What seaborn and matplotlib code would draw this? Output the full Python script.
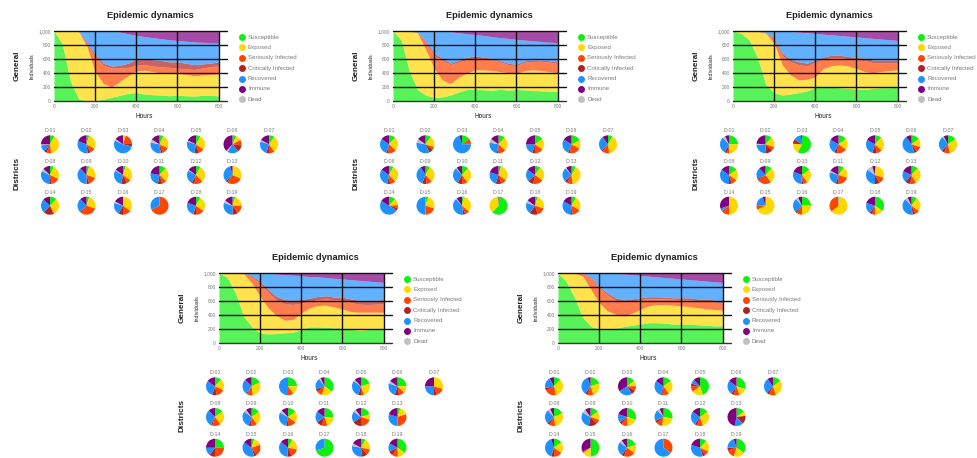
import matplotlib
matplotlib.use("Agg")
import matplotlib.pyplot as plt
import seaborn as sns

W, H = 977, 458

HOURS = [0, 40, 80, 120, 160, 200, 240, 280, 320, 360, 400,
         440, 480, 520, 560, 600, 640, 680, 720, 760, 800]
STATES = ["Susceptible", "Exposed", "Seriously Infected", "Critically Infected",
          "Recovered", "Immune", "Dead"]
COLORS = ["#11ee11", "#ffd700", "#ff4500", "#b22222", "#1e90ff", "#800080", "#c0c0c0"]
DISTRICTS = ["D-%02d" % i for i in range(1, 20)]
Y_TICKS = [0, 200, 400, 600, 800, 1000]
Y_TICK_LABELS = ["0", "200", "400", "600", "800", "1,000"]
X_TICKS = [0, 200, 400, 600, 800]
DEAD = [0] * 21

# run 1
SUSC_1 = [1000, 820, 280, 30, 5, 10, 25, 55, 80, 110, 120, 100, 90, 85, 75, 85, 75, 70, 80, 85, 70]
EXPO_1 = [0, 180, 720, 960, 775, 410, 225, 145, 200, 250, 310, 340, 330, 315, 315, 315, 305, 290, 290, 295, 320]
SERI_1 = [0, 0, 0, 5, 40, 210, 260, 270, 190, 120, 80, 80, 80, 90, 90, 70, 80, 90, 100, 110, 110]
CRIT_1 = [0, 0, 0, 5, 20, 30, 30, 30, 40, 60, 90, 90, 90, 90, 80, 90, 80, 70, 60, 50, 60]
RECO_1 = [0, 0, 0, 0, 160, 340, 460, 500, 475, 420, 340, 310, 315, 310, 315, 305, 315, 325, 308, 290, 265]
IMMU_1 = [0, 0, 0, 0, 0, 0, 0, 0, 15, 40, 60, 80, 95, 110, 125, 135, 145, 155, 162, 170, 175]

# run 2
SUSC_2 = [1000, 870, 420, 160, 85, 50, 60, 85, 130, 165, 165, 160, 155, 165, 155, 165, 160, 150, 145, 140, 135]
EXPO_2 = [0, 130, 580, 810, 645, 415, 240, 165, 210, 235, 280, 285, 280, 255, 250, 230, 275, 295, 290, 280, 270]
SERI_2 = [0, 0, 0, 10, 100, 185, 280, 270, 220, 190, 165, 155, 155, 140, 115, 110, 120, 120, 135, 135, 135]
CRIT_2 = [0, 0, 0, 5, 20, 30, 30, 20, 25, 35, 35, 25, 20, 15, 20, 20, 20, 20, 15, 20, 20]
RECO_2 = [0, 0, 0, 15, 150, 320, 390, 450, 390, 335, 305, 310, 310, 330, 355, 355, 295, 275, 265, 265, 275]
IMMU_2 = [0, 0, 0, 0, 0, 0, 0, 10, 25, 40, 50, 65, 80, 95, 105, 120, 130, 140, 150, 160, 165]

# run 3
SUSC_3 = [1000, 965, 870, 610, 230, 120, 85, 100, 120, 145, 195, 215, 195, 190, 180, 170, 165, 180, 190, 190, 195]
EXPO_3 = [0, 35, 130, 385, 735, 705, 430, 270, 180, 165, 150, 250, 310, 325, 320, 295, 255, 225, 230, 245, 250]
SERI_3 = [0, 0, 0, 5, 10, 45, 135, 190, 220, 190, 210, 135, 115, 105, 100, 125, 155, 145, 125, 110, 100]
CRIT_3 = [0, 0, 0, 0, 5, 25, 30, 35, 40, 40, 30, 30, 35, 35, 35, 35, 35, 35, 40, 40, 40]
RECO_3 = [0, 0, 0, 0, 20, 105, 320, 400, 425, 435, 380, 325, 290, 280, 290, 290, 295, 310, 300, 290, 280]
IMMU_3 = [0, 0, 0, 0, 0, 0, 0, 5, 15, 25, 35, 45, 55, 65, 75, 85, 95, 105, 115, 125, 135]

# run 4
SUSC_4 = [1000, 940, 715, 380, 230, 140, 130, 135, 145, 155, 190, 230, 230, 225, 215, 215, 200, 180, 190, 200, 205]
EXPO_4 = [0, 60, 285, 610, 625, 525, 370, 255, 180, 180, 240, 270, 305, 315, 300, 270, 250, 260, 250, 240, 235]
SERI_4 = [0, 0, 0, 5, 90, 185, 220, 220, 235, 215, 140, 95, 85, 90, 100, 125, 130, 115, 110, 115, 120]
CRIT_4 = [0, 0, 0, 5, 15, 30, 40, 55, 60, 60, 50, 45, 45, 45, 40, 45, 50, 55, 60, 55, 60]
RECO_4 = [0, 0, 0, 0, 40, 120, 235, 320, 355, 360, 340, 310, 280, 260, 270, 260, 275, 285, 275, 265, 245]
IMMU_4 = [0, 0, 0, 0, 0, 0, 5, 15, 25, 30, 40, 50, 55, 65, 75, 85, 95, 105, 115, 125, 135]

# run 5
SUSC_5 = [1000, 880, 650, 365, 235, 200, 200, 210, 235, 255, 270, 290, 290, 285, 270, 270, 270, 260, 255, 245, 245]
EXPO_5 = [0, 120, 350, 590, 530, 375, 260, 200, 150, 170, 210, 240, 260, 265, 270, 260, 250, 245, 235, 235, 225]
SERI_5 = [0, 0, 0, 35, 165, 215, 230, 200, 200, 175, 140, 100, 85, 80, 85, 90, 95, 100, 105, 105, 100]
CRIT_5 = [0, 0, 0, 5, 15, 20, 25, 35, 30, 30, 25, 30, 25, 25, 20, 25, 30, 25, 30, 30, 30]
RECO_5 = [0, 0, 0, 5, 55, 190, 285, 350, 370, 345, 320, 295, 285, 280, 280, 270, 260, 265, 260, 260, 265]
IMMU_5 = [0, 0, 0, 0, 0, 0, 0, 5, 15, 25, 35, 45, 55, 65, 75, 85, 95, 105, 115, 125, 135]

# district shares, pie order: Susceptible, Exposed, Seriously, Critically, Recovered, Dead, Immune
PIE_ORDER = [0, 1, 2, 3, 4, 6, 5]
PIES_1 = [
    [8, 40, 8, 5, 12, 2, 25], [5, 28, 10, 5, 33, 0, 19], [0, 5, 18, 6, 53, 3, 15],
    [7, 25, 12, 4, 30, 6, 16], [8, 27, 10, 8, 27, 2, 18], [7, 10, 10, 12, 20, 3, 38],
    [10, 30, 10, 5, 25, 3, 17], [7, 25, 15, 3, 32, 5, 13], [5, 25, 15, 5, 38, 0, 12],
    [5, 30, 8, 10, 30, 2, 15], [12, 25, 8, 8, 25, 0, 22], [8, 30, 15, 5, 25, 2, 15],
    [0, 32, 28, 3, 33, 0, 4], [12, 30, 2, 18, 25, 0, 13], [5, 25, 30, 3, 25, 0, 12],
    [0, 35, 15, 8, 22, 3, 17], [0, 0, 68, 0, 32, 0, 0], [8, 27, 15, 5, 25, 0, 20],
    [5, 20, 15, 10, 30, 5, 15],
]
PIES_2 = [
    [12, 25, 15, 3, 30, 0, 15], [10, 20, 5, 8, 35, 7, 15], [15, 0, 8, 2, 70, 0, 5],
    [12, 25, 13, 3, 25, 7, 15], [15, 20, 15, 5, 20, 0, 25], [18, 15, 20, 3, 28, 0, 16],
    [8, 40, 12, 3, 27, 0, 10], [8, 30, 10, 5, 32, 0, 15], [8, 30, 10, 8, 35, 0, 9],
    [12, 28, 10, 8, 30, 2, 10], [5, 30, 10, 10, 25, 0, 20], [10, 25, 18, 10, 22, 0, 15],
    [8, 40, 10, 5, 25, 2, 10], [12, 12, 5, 5, 50, 0, 16], [5, 25, 20, 0, 50, 0, 0],
    [3, 33, 8, 4, 40, 2, 10], [62, 37, 0, 0, 0, 0, 1], [5, 25, 15, 15, 20, 5, 15],
    [8, 25, 15, 3, 32, 0, 17],
]
PIES_3 = [
    [25, 25, 3, 5, 30, 5, 7], [12, 18, 7, 12, 25, 2, 24], [58, 18, 0, 8, 14, 0, 2],
    [15, 20, 18, 5, 25, 0, 17], [12, 25, 10, 8, 28, 0, 17], [15, 15, 10, 5, 45, 0, 10],
    [15, 32, 10, 5, 28, 2, 8], [15, 20, 10, 5, 35, 0, 15], [12, 28, 25, 3, 20, 0, 12],
    [15, 25, 8, 3, 30, 0, 19], [10, 20, 20, 5, 25, 3, 17], [2, 28, 12, 8, 35, 10, 5],
    [12, 30, 10, 10, 20, 0, 18], [0, 50, 15, 0, 5, 0, 30], [0, 68, 8, 0, 19, 0, 5],
    [25, 25, 10, 3, 25, 5, 7], [0, 64, 35, 0, 1, 0, 0], [35, 15, 5, 5, 20, 0, 20],
    [10, 25, 8, 5, 40, 5, 7],
]
PIES_4 = [
    [12, 20, 15, 8, 30, 0, 15], [18, 30, 10, 2, 28, 0, 12], [25, 15, 10, 0, 50, 0, 0],
    [35, 20, 10, 5, 20, 3, 7], [20, 25, 5, 5, 30, 3, 12], [25, 12, 10, 8, 25, 5, 15],
    [0, 30, 15, 5, 25, 0, 25], [15, 25, 15, 3, 30, 0, 12], [15, 25, 10, 5, 30, 5, 10],
    [15, 20, 15, 3, 30, 5, 12], [25, 20, 10, 10, 20, 0, 15], [20, 10, 20, 15, 20, 5, 10],
    [5, 15, 30, 0, 30, 0, 20], [25, 0, 25, 10, 15, 0, 25], [5, 15, 20, 5, 40, 0, 15],
    [8, 20, 15, 8, 35, 0, 14], [70, 0, 0, 0, 30, 0, 0], [8, 20, 10, 10, 30, 5, 17],
    [35, 15, 10, 8, 15, 0, 17],
]
PIES_5 = [
    [12, 35, 20, 5, 20, 0, 8], [20, 25, 10, 5, 35, 0, 5], [15, 10, 8, 8, 25, 0, 34],
    [15, 25, 12, 3, 30, 0, 15], [45, 20, 10, 5, 8, 0, 12], [30, 15, 10, 5, 25, 0, 15],
    [15, 30, 12, 5, 28, 0, 10], [18, 30, 10, 5, 25, 5, 7], [15, 15, 8, 15, 30, 7, 10],
    [30, 20, 10, 5, 15, 0, 20], [28, 25, 10, 5, 20, 5, 7], [15, 30, 10, 5, 25, 0, 15],
    [15, 8, 0, 15, 15, 0, 47], [15, 20, 15, 5, 40, 0, 5], [50, 15, 3, 0, 0, 0, 32],
    [20, 15, 20, 5, 25, 5, 10], [0, 0, 35, 0, 65, 0, 0], [12, 20, 8, 5, 35, 0, 20],
    [35, 20, 15, 5, 20, 0, 5],
]

RUNS = [
    ((0, 0), [SUSC_1, EXPO_1, SERI_1, CRIT_1, RECO_1, IMMU_1, DEAD], PIES_1),
    ((339, 0), [SUSC_2, EXPO_2, SERI_2, CRIT_2, RECO_2, IMMU_2, DEAD], PIES_2),
    ((679, 0), [SUSC_3, EXPO_3, SERI_3, CRIT_3, RECO_3, IMMU_3, DEAD], PIES_3),
    ((165, 242), [SUSC_4, EXPO_4, SERI_4, CRIT_4, RECO_4, IMMU_4, DEAD], PIES_4),
    ((504, 242), [SUSC_5, EXPO_5, SERI_5, CRIT_5, RECO_5, IMMU_5, DEAD], PIES_5),
]

sns.set_theme(style="white")
plt.rcParams["font.family"] = ["Liberation Sans", "DejaVu Sans"]

fig = plt.figure(figsize=(W / 100, H / 100), dpi=100)
fig.patch.set_facecolor("white")
canvas = fig.add_axes([0, 0, 1, 1], zorder=5)
canvas.patch.set_alpha(0)

GREY = "#7a7a7a"
DARK = "#222222"


def px_rect(left, top, width, height):
    return [left / W, 1 - (top + height) / H, width / W, height / H]


def txt(x, y, s, **kw):
    kw.setdefault("ha", "center")
    kw.setdefault("va", "center")
    canvas.text(x, H - y, s, **kw)


def draw_run(ox, oy, series, pies):
    ax = fig.add_axes(px_rect(ox + 54, oy + 31, 173, 70))
    ax.stackplot(HOURS, *series, colors=COLORS, alpha=0.7, linewidth=0)
    ax.set_xlim(0, 841)
    ax.set_ylim(0, 1000)
    for y in Y_TICKS[1:]:
        ax.axhline(y, color="#111111", lw=1.0, clip_on=False, zorder=3)
    for x in X_TICKS[1:]:
        ax.axvline(x, color="#111111", lw=1.0, zorder=3)
    ax.axhline(0, color="#333333", lw=1.0, clip_on=False, zorder=3)
    ax.set_xticks(X_TICKS)
    ax.set_xticklabels([str(v) for v in X_TICKS])
    ax.set_yticks(Y_TICKS)
    ax.set_yticklabels(Y_TICK_LABELS)
    ax.tick_params(length=0, labelsize=3.5, labelcolor=GREY, pad=2.2)
    ax.set_facecolor("none")
    sns.despine(ax=ax, left=True, bottom=True)

    txt(ox + 150, oy + 16, "Epidemic dynamics", fontsize=6.7, weight="bold", color=DARK)
    txt(ox + 144, oy + 116, "Hours", fontsize=4.7, color=DARK)
    txt(ox + 17, oy + 66, "General", fontsize=5.9, weight="bold", color=DARK, rotation=90)
    txt(ox + 32, oy + 66, "Individuals", fontsize=3.9, color=DARK, rotation=90)
    txt(ox + 17, oy + 173, "Districts", fontsize=5.9, weight="bold", color=DARK, rotation=90)

    for i, (state, color) in enumerate(zip(STATES, COLORS)):
        ly = oy + 37 + 10.4 * i
        canvas.plot([ox + 242], [H - ly], marker="o", ms=5, color=color, mec="none")
        txt(ox + 248, ly, state, fontsize=4.4, color=GREY, ha="left")

    for k, (name, vals) in enumerate(zip(DISTRICTS, pies)):
        if k < 7:
            row, col = 0, k
        elif k < 13:
            row, col = 1, k - 7
        else:
            row, col = 2, k - 13
        cx = ox + 50 + 36.5 * col
        cy = oy + 144.3 + 30.7 * row
        canvas.pie(vals, colors=[COLORS[j] for j in PIE_ORDER], center=(cx, H - cy),
                   radius=9, startangle=90, counterclock=False,
                   wedgeprops=dict(linewidth=0), frame=True)
        txt(cx, cy - 13.3, name, fontsize=3.8, color=GREY)


for (ox, oy), series, pies in RUNS:
    draw_run(ox, oy, series, pies)

canvas.set_xlim(0, W)
canvas.set_ylim(0, H)
canvas.set_aspect("auto")
canvas.set_axis_off()

fig.savefig("out.png", dpi=100)
